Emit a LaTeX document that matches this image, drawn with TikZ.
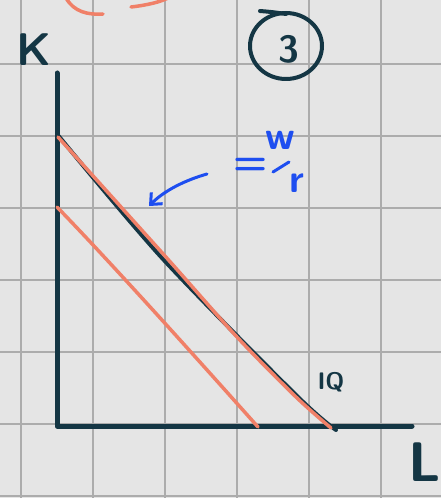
\documentclass[tikz,border=0pt]{standalone}
\usetikzlibrary{arrows.meta}
\definecolor{ink}{RGB}{20,54,68}
\definecolor{salmon}{RGB}{240,128,104}
\definecolor{pen}{RGB}{30,78,240}
\definecolor{paper}{RGB}{229,229,229}
\definecolor{gridline}{RGB}{172,172,172}

\begin{document}
\begin{tikzpicture}[
    x=1bp, y=-1bp,
    every node/.style={inner sep=0pt},
    lbl/.style={ink, font=\sffamily\bfseries\fontsize{#1}{#1}\selectfont},
    blue/.style={pen, font=\sffamily\bfseries\fontsize{#1}{#1}\selectfont},
    sheet/.style={gridline, line width=1.6bp},
    axis/.style={ink, line width=5bp, line join=round, line cap=round},
    isocost/.style={ink, line width=4bp, line cap=round},
    quant/.style={salmon, line width=3.5bp, line cap=round},
    note/.style={pen, line width=3bp, line cap=round}
  ]
  \fill[paper] (0,0) rectangle (441,498);
  \useasboundingbox (0,0) rectangle (441,498);
  \clip (0,0) rectangle (441,498);

  % grid paper
  \foreach \gx in {21,93,...,381}
    \draw[sheet] (\gx,0) -- (\gx,498);
  \foreach \gy in {64,136,...,496}
    \draw[sheet] (0,\gy) -- (441,\gy);

  % leftover stroke at the top
  \draw[quant] (66,-2) .. controls (74,12) and (88,15) .. (103,14);
  \draw[quant] (131,7) .. controls (148,5) and (160,2) .. (168,-2);

  % axes
  \draw[axis] (57,73) -- (57,426) -- (412,426);
  \node[lbl=46] (k) at (34,50) {K};
  \node[lbl=56] (l) at (425,462) {L};

  % isocost and isoquants
  \draw[isocost] plot[smooth] coordinates {(57,134) (162,258) (297,396) (336,430)};
  \draw[quant] plot[smooth] coordinates {(58,137) (165,256) (237,337) (296,397) (331,428)};
  \draw[quant] (57,207) .. controls (120,272) and (225,390) .. (258,427);
  \node[lbl=24] (iq) at (331,382) {IQ};

  % slope note
  \node[blue=40] (eq) at (251,166) {=};
  \node[blue=40] (w) at (280,140) {w};
  \node[blue=40] (r) at (297,183) {r};
  \draw[note] (273,172) -- (289,162);
  \coordinate (tail) at (207,174);
  \coordinate (tip) at (149,206);
  \draw[note, -{Straight Barb[length=9bp, width=16bp]}]
        (tail) .. controls (186,180) and (165,190) .. (tip);

  % question number
  \node[lbl=38] (three) at (289,49) {3};
  \draw[ink, line width=4bp] (286,46) ellipse [x radius=36, y radius=33];
  \draw[ink, line width=4bp, line cap=round] (260,11) .. controls (272,12) .. (286,14);
\end{tikzpicture}
\end{document}
